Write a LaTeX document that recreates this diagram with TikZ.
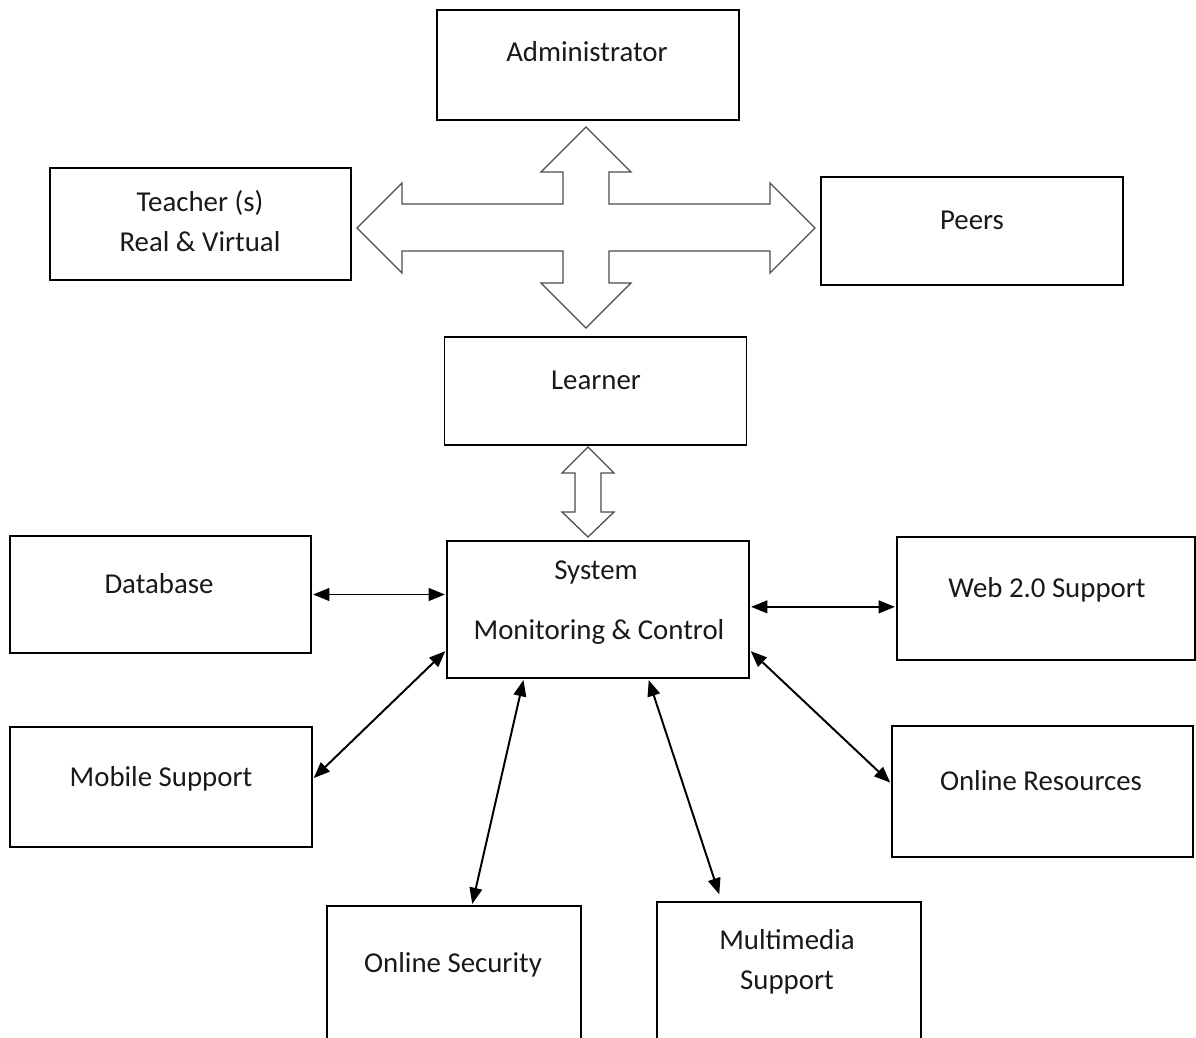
\documentclass[tikz,border=0pt]{standalone}
\usepackage{fontspec}
\setmainfont{Carlito}
\usetikzlibrary{arrows.meta}
\def\px{0.025cm}
\begin{document}
\begin{tikzpicture}[x=0.025cm,y=-0.025cm,>={Triangle[length=11.5pt,width=9pt]},
	font=\fontsize{20.5pt}{28.5pt}\selectfont,
	box/.style 2 args={draw,line width=1pt,minimum width=#1*\px,minimum height=#2*\px,inner sep=0pt},
	txt/.style={anchor=base,inner sep=0pt,text=black!90},
	fatarrow/.style={draw=black!70,fill=white,line width=0.9pt},
	link/.style={<->,line width=1.4pt,shorten <=1pt,shorten >=1pt}]
	\useasboundingbox (0,0) rectangle (1196,1038);
	\clip (0,0) rectangle (1196,1038);
	% boxes
	\node[box={302}{110}] (admin) at (588,65) {};
	\node[box={301}{112}] (teacher) at (200.5,224) {};
	\node[box={302}{108}] (peers) at (972,231) {};
	\node[box={302}{108}] (learner) at (595.5,391) {};
	\node[box={302}{137}] (system) at (598,609.5) {};
	\node[box={301}{117}] (database) at (160.5,594.5) {};
	\node[box={298}{123}] (web) at (1046,598.5) {};
	\node[box={302}{120}] (mobile) at (161,787) {};
	\node[box={301}{131}] (onres) at (1042.5,791.5) {};
	\node[box={254}{154}] (security) at (454,983) {};
	\node[box={264}{158}] (media) at (789,981) {};
	% texts
	\node[txt] (admin-t) at (587,62) {Administrator};
	\node[txt] (teacher-t1) at (200,211) {Teacher (s)};
	\node[txt] (teacher-t2) at (200,251) {Real \& Virtual};
	\node[txt] (peers-t) at (972,229) {Peers};
	\node[txt] (learner-t) at (596,389) {Learner};
	\node[txt] (system-t1) at (596,579) {System};
	\node[txt] (system-t2) at (599,639) {Monitoring \& Control};
	\node[txt] (database-t) at (159,593) {Database};
	\node[txt] (web-t) at (1047,597) {Web 2.0 Support};
	\node[txt] (mobile-t) at (161,786) {Mobile Support};
	\node[txt] (onres-t) at (1041,790) {Online Resources};
	\node[txt] (security-t) at (453,972) {Online Security};
	\node[txt] (media-t1) at (787,949) {Multimedia};
	\node[txt] (media-t2) at (787,989) {Support};
	% block arrows
	\begin{scope}[shift={(586,228)}]
		\draw[fatarrow] (0,-101) -- (45,-56) -- (23,-56) -- (23,-24) -- (184,-24) -- (184,-45) -- (229,0)
			-- (184,45) -- (184,23) -- (23,23) -- (23,55) -- (45,55) -- (0,100) -- (-45,55) -- (-23,55)
			-- (-23,23) -- (-184,23) -- (-184,45) -- (-229,0) -- (-184,-45) -- (-184,-24) -- (-23,-24)
			-- (-23,-56) -- (-45,-56) -- cycle;
	\end{scope}
	\begin{scope}[shift={(588,492)}]
		\draw[fatarrow] (0,-45) -- (26,-19) -- (13,-19) -- (13,20) -- (26,20) -- (0,45) -- (-26,20)
			-- (-13,20) -- (-13,-19) -- (-26,-19) -- cycle;
	\end{scope}
	% links
	\draw[link] (database.east) -- (database.east -| system.west);
	\draw[link] (system.1.3) -- (system.1.3 -| web.west);
	\draw[link] (system.195.4) -- (mobile.3.4);
	\draw[link] (system.345.4) -- (onres.177.9);
	\draw[link] (system.223.2) -- (security.77.5);
	\draw[link] (system.306.7) -- ([yshift=4pt]media.131.8);
\end{tikzpicture}
\end{document}
